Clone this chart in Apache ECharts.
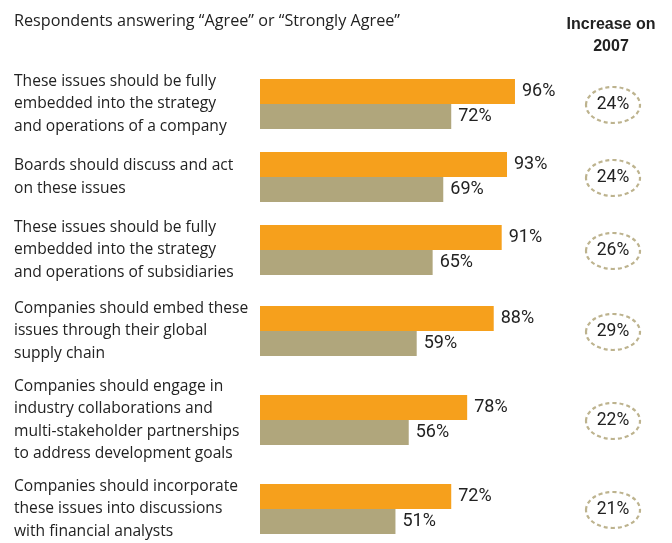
<!DOCTYPE html>
<html lang="en" style="height: 100%">
<head>
  <meta charset="utf-8">
</head>
<body style="height: 100%; margin: 0; background: #fff">
  <div id="container" style="width: 672px; height: 543px"></div>

  <script type="text/javascript" src="https://cdn.jsdelivr.net/npm/echarts@6/dist/echarts.min.js"></script>

  <script type="text/javascript">
    var dom = document.getElementById('container');
    var myChart = echarts.init(dom, null, { renderer: 'canvas' });

    // statements (line breaks as in the original)
    const statements = [
      'These issues should be fully\nembedded into the strategy\nand operations of a company',
      'Boards should discuss and act\non these issues',
      'These issues should be fully\nembedded into the strategy\nand operations of subsidiaries',
      'Companies should embed these\nissues through their global\nsupply chain',
      'Companies should engage in\nindustry collaborations and\nmulti-stakeholder partnerships\nto address development goals',
      'Companies should incorporate\nthese issues into discussions\nwith financial analysts'
    ];
    const agreeNow = [96, 93, 91, 88, 78, 72];
    const agree2007 = [72, 69, 65, 59, 56, 51];
    const increase = [24, 24, 26, 29, 22, 21];

    const orange = '#F6A01C';
    const khaki = '#B0A67C';
    const textColor = '#222';
    const font = 'Open Sans';
    const numFont = 'Roboto';

    // vertical spacing follows the number of label lines
    const centers = [];
    let y = 104;
    statements.forEach(function (s, i) {
      if (i > 0) {
        const prev = statements[i - 1].split('\n').length;
        const cur = s.split('\n').length;
        y += 33 + 16 * (prev + cur) / 2;
      }
      centers.push(y);
    });

    const grids = [], xAxes = [], yAxes = [], series = [], graphics = [];
    statements.forEach(function (s, i) {
      grids.push({ left: 260, width: 265.6, top: centers[i] - 25, height: 50 });
      xAxes.push({ gridIndex: i, type: 'value', min: 0, max: 100, show: false });
      yAxes.push({
        gridIndex: i, type: 'category', inverse: true, data: [s],
        axisLine: { show: false }, axisTick: { show: false },
        axisLabel: {
          align: 'left', margin: 246, fontSize: 15.6, lineHeight: 22.5,
          color: textColor, fontFamily: font
        }
      });
      [[agreeNow, orange], [agree2007, khaki]].forEach(function (p) {
        series.push({
          type: 'bar', xAxisIndex: i, yAxisIndex: i,
          data: [p[0][i]], barWidth: 25, barGap: '0%',
          itemStyle: { color: p[1] },
          label: {
            show: true, position: 'right', distance: 7, formatter: '{c}%',
            fontSize: 18, color: textColor, fontFamily: numFont
          },
          silent: true
        });
      });
      graphics.push({
        type: 'ellipse',
        shape: { cx: 613, cy: centers[i] + 1, rx: 27, ry: 18 },
        style: { fill: 'none', stroke: '#BDB38E', lineWidth: 2.2, lineDash: [4, 3] }
      });
      graphics.push({
        type: 'text', x: 613, y: centers[i] + 1,
        style: {
          text: increase[i] + '%', fill: textColor, fontSize: 17.5, fontFamily: numFont,
          align: 'center', verticalAlign: 'middle'
        }
      });
    });

    graphics.push({
      type: 'text', left: 14, top: 13,
      style: {
        text: 'Respondents answering \u201CAgree\u201D or \u201CStrongly Agree\u201D',
        fill: textColor, fontSize: 16.2, fontFamily: font
      }
    });
    graphics.push({
      type: 'text', x: 611, y: 14,
      style: {
        text: 'Increase on\n2007', fill: textColor, fontSize: 16, fontWeight: 'bold',
        fontFamily: 'Liberation Sans', align: 'center', lineHeight: 22
      }
    });

    var option = {
      animation: false,
      grid: grids,
      xAxis: xAxes,
      yAxis: yAxes,
      series: series,
      graphic: { elements: graphics }
    };

    myChart.setOption(option);
    window.addEventListener('resize', myChart.resize);
  </script>
</body>
</html>
